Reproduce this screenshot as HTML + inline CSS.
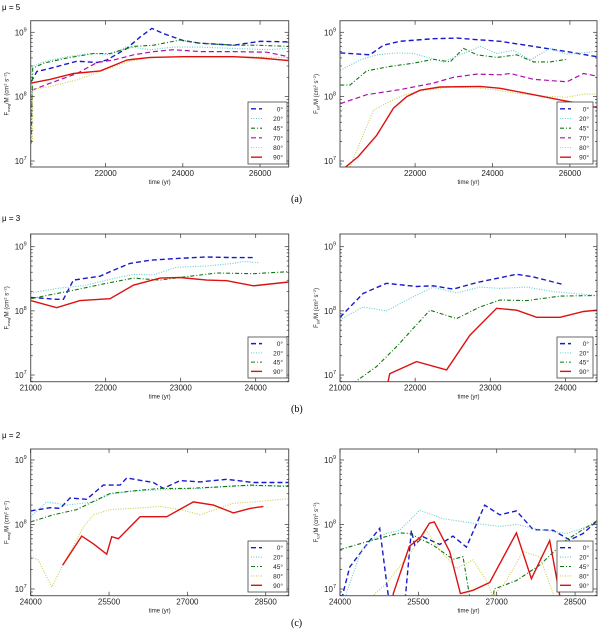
<!DOCTYPE html>
<html><head><meta charset="utf-8">
<style>
body{margin:0;background:#fff;}
svg{display:block;font-family:"Liberation Sans",sans-serif;}
</style></head>
<body>
<svg id="fig" width="600" height="630" viewBox="0 0 600 630">
<text x="2" y="10" font-size="8">μ = 5</text>
<text x="2" y="221" font-size="8">μ = 3</text>
<text x="2" y="438" font-size="8">μ = 2</text>
<text x="291" y="202" font-size="10" font-family="Liberation Serif,serif">(a)</text>
<text x="291" y="412" font-size="10" font-family="Liberation Serif,serif">(b)</text>
<text x="291" y="626" font-size="10" font-family="Liberation Serif,serif">(c)</text>
</svg>
<script>
// ---- data (time in yr, log10 of F/M in cm^2 s^-2) ----
const angleLabels = ["0°","20°","45°","70°","80°","90°"];
// Row a, left (mu=5, F_mag)
const aL_t0=[20070,20220,20570,21260,21780,22030,22550,22900,23200,23500,24020,24450,25310,26000,26740];
const aL_v0=[8.23,8.39,8.44,8.55,8.53,8.57,8.75,8.93,9.06,8.98,8.87,8.83,8.80,8.86,8.85];
const aL_t20=[20070,20095,20397,21000,21603,22121,22552,23155,23759,24448,25310,26172,26741];
const aL_v20=[7.6,8.47,8.54,8.62,8.67,8.65,8.78,8.73,8.77,8.77,8.75,8.73,8.75];
const aL_t45=[20070,20112,20397,21000,21690,22121,22724,23240,23931,24448,25310,25914,26741];
const aL_v45=[7.27,8.44,8.52,8.60,8.67,8.67,8.78,8.80,8.88,8.83,8.80,8.80,8.78];
const aL_t70=[20090,20569,21259,21776,22207,22724,23240,23759,24448,25310,26172,26741];
const aL_v70=[8.10,8.21,8.36,8.53,8.57,8.65,8.70,8.73,8.70,8.70,8.69,8.62];
const aL_t80=[20110,20110,20569,21259,21862,22552,23069,23759,24448,25310,26741];
const aL_v80=[7.3,8.11,8.16,8.26,8.39,8.54,8.60,8.62,8.62,8.62,8.61];
const aL_t90=[20070,20569,21172,21862,22552,23155,24017,25310,26000,26741];
const aL_v90=[8.21,8.27,8.36,8.40,8.57,8.61,8.62,8.62,8.60,8.56];
// Row a, right (mu=5, F_tot)
const aR_t0=[20069,20836,21181,21612,22474,23078,23509,24198,25060,25922,26698];
const aR_v0=[8.68,8.65,8.80,8.86,8.90,8.91,8.89,8.86,8.78,8.70,8.62];
const aR_t20=[20069,20577,21009,21526,21957,22388,22733,23164,23681,24112,24543,24974,25491,25922,26698];
const aR_v20=[8.41,8.57,8.65,8.68,8.67,8.60,8.54,8.65,8.78,8.67,8.72,8.57,8.75,8.66,8.70];
const aR_t45=[20069,20319,20750,21353,21957,22474,22905,23250,23595,24112,24629,25060,25491,25922];
const aR_v45=[8.18,8.18,8.40,8.47,8.52,8.58,8.54,8.75,8.65,8.61,8.65,8.54,8.54,8.58];
const aR_t70=[20069,20750,21612,22474,22991,23595,24198,24457,25060,25922,26353,26698];
const aR_v70=[7.89,8.03,8.11,8.21,8.30,8.35,8.34,8.36,8.27,8.23,8.36,8.32];
const aR_t80=[20100,20319,20922,21267,21612,22043,22905,23767,24629,25491,25922,26353,26698];
const aR_v80=[6.5,6.91,7.79,7.90,8.00,8.08,8.15,8.13,8.05,8.00,7.99,8.04,8.04];
const aR_t90=[20100,20190,20534,21009,21440,21785,22129,22646,23681,24198,25060,25750,26181,26698];
const aR_v90=[6.7,6.90,7.07,7.40,7.82,8.00,8.10,8.15,8.16,8.13,8.03,7.95,7.90,7.83];
// Row b, left (mu=3, F_mag)
const bL_t0=[21000,21347,21436,21569,21924,22058,22324,22591,22991,23347,23702,23969];
const bL_v0=[8.21,8.18,8.18,8.48,8.54,8.61,8.74,8.79,8.82,8.84,8.83,8.83];
const bL_t20=[21000,21347,21702,22013,22369,22636,22947,23347,23702,23836,24036];
const bL_v20=[8.28,8.35,8.39,8.48,8.57,8.56,8.68,8.70,8.74,8.77,8.75];
const bL_t45=[21000,21258,21569,21969,22369,22724,23124,23480,23969,24440];
const bL_v45=[8.19,8.25,8.32,8.42,8.51,8.48,8.54,8.59,8.58,8.61];
const bL_t90=[21000,21347,21658,22058,22369,22724,22991,23347,23613,23969,24440];
const bL_v90=[8.16,8.05,8.16,8.19,8.40,8.51,8.52,8.48,8.47,8.39,8.45];
// Row b, right (mu=3, F_tot)
const bR_t0=[21000,21307,21618,22018,22240,22507,22818,23351,23573,23973];
const bR_v0=[7.90,8.27,8.43,8.38,8.39,8.34,8.44,8.57,8.53,8.41];
const bR_t20=[21000,21307,21618,21973,22240,22551,22862,23129,23484,23840,24418];
const bR_v20=[7.86,8.06,8.00,8.22,8.37,8.28,8.37,8.35,8.37,8.30,8.24];
const bR_t45=[21100,21173,21484,21751,22196,22551,22862,23129,23484,23929,24418];
const bR_v45=[6.6,6.87,7.13,7.44,8.01,7.88,8.06,8.17,8.16,8.23,8.24];
const bR_t90=[21620,21627,21662,22018,22418,22729,23084,23351,23618,23929,24240,24418];
const bR_v90=[6.6,6.82,7.02,7.21,7.08,7.62,8.04,8.01,7.90,7.90,7.99,8.01];
// Row c, left (mu=2, F_mag)
const cL_t0=[24000,24370,24562,24753,25072,25391,25711,25838,26349,26540,26860,27243,27753,28264,28940];
const cL_v0=[8.21,8.26,8.25,8.41,8.39,8.61,8.61,8.72,8.65,8.56,8.68,8.66,8.70,8.65,8.65];
const cL_t20=[24000,24306,24689,25200,25519,25966,26604,27243,27881,28940];
const cL_v20=[8.12,8.35,8.30,8.35,8.47,8.52,8.54,8.56,8.60,8.60];
const cL_t45=[24000,24434,24881,25519,25966,26477,26987,27562,28200,28940];
const cL_v45=[8.04,8.15,8.23,8.48,8.52,8.56,8.56,8.58,8.61,8.59];
const cL_t80=[24000,24147,24402,24562,25009,25200,25519,26157,26477,26923,27243,27498,27881,28264,28940];
const cL_v80=[7.50,7.45,7.03,7.29,7.96,8.15,8.23,8.26,8.28,8.22,8.15,8.22,8.33,8.35,8.40];
const cL_t90=[24613,24977,25200,25455,25551,25679,26094,26604,27115,27498,27881,28200,28455];
const cL_v90=[7.37,7.82,7.70,7.54,7.81,7.78,8.12,8.12,8.35,8.30,8.18,8.25,8.28];
// Row c, right (mu=2, F_tot)
const cR_t0=[24020,24057,24185,24504,24760,24919,25000,25200,25257,25366,25430,25589,25909,26164,26419,26770,27057,27377,27696,28079,28398,28653,28940];
const cR_v0=[6.6,6.93,7.34,7.68,7.94,6.93,6.5,6.5,6.93,7.91,7.68,7.81,7.69,7.82,7.65,8.30,8.15,8.21,7.92,7.91,7.76,7.86,8.07];
const cR_t20=[24080,24121,24409,24632,24887,25143,25526,25972,26547,27057,27377,27824,28334,28940];
const cR_v20=[6.6,6.93,7.60,7.78,7.86,7.91,8.22,8.09,8.02,7.97,8.00,7.92,7.86,8.02];
const cR_t45=[24000,24504,25143,25334,25781,26164,26355,26483,26560,26900,26950,27377,27824,28334,28940];
const cR_v45=[7.61,7.73,7.87,7.86,7.68,7.46,7.50,6.88,6.5,6.5,7.00,7.13,7.37,7.76,8.07];
const cR_t80=[24600,24664,24887,25334,25653,25909,26228,26547,26802,26930,27185,27505,27824,28079,28150];
const cR_v80=[6.6,6.93,7.08,7.55,7.91,7.60,7.32,7.45,7.13,6.88,7.13,7.58,7.50,6.93,6.6];
const cR_t90=[24980,25020,25327,25551,25711,25806,26100,26304,26547,26866,27377,27664,28015,28200,28260];
const cR_v90=[6.6,6.93,7.66,7.81,8.02,8.04,7.58,6.93,6.98,7.10,7.87,7.16,7.75,6.93,6.6];
// tick labels
const xTicksA=[22000,24000,26000];
const xTicksB=[21000,22000,23000,24000];
const xTicksC=[24000,25500,27000,28500];
const yDecades=[7,8,9];

const STY={
 "0°":{c:"#1a1acc",d:"5,3",w:1.4},
 "20°":{c:"#66cccc",d:"1,1.5",w:1.1},
 "45°":{c:"#117711",d:"4,2,1,2",w:1.1},
 "70°":{c:"#aa11aa",d:"5,3",w:1.2},
 "80°":{c:"#cccc55",d:"1,1.5",w:1.1},
 "90°":{c:"#dd1111",d:"",w:1.4}
};
const NS="http://www.w3.org/2000/svg";
const svg=document.getElementById('fig');
function mk(tag,attrs,parent){const e=document.createElementNS(NS,tag);for(const k in attrs)e.setAttribute(k,attrs[k]);(parent||svg).appendChild(e);return e;}

const panels=[
 {id:"a-left",box:[30.7,20.7,288.7,167],xd:[20060,26742],yd:[6.907,9.18],xt:xTicksA,lab:"mag",
  series:[["0°",aL_t0,aL_v0],["20°",aL_t20,aL_v20],["45°",aL_t45,aL_v45],["70°",aL_t70,aL_v70],["80°",aL_t80,aL_v80],["90°",aL_t90,aL_v90]],leg:[248,102,287,164]},
 {id:"a-right",box:[340,20.7,597,167],xd:[20060,26700],yd:[6.907,9.18],xt:xTicksA,lab:"tot",
  series:[["0°",aR_t0,aR_v0],["20°",aR_t20,aR_v20],["45°",aR_t45,aR_v45],["70°",aR_t70,aR_v70],["80°",aR_t80,aR_v80],["90°",aR_t90,aR_v90]],leg:[557,102,593,164]},
 {id:"b-left",box:[30.7,234,288.7,381.7],xd:[21000,24440],yd:[6.896,9.198],xt:xTicksB,lab:"mag",
  series:[["0°",bL_t0,bL_v0],["20°",bL_t20,bL_v20],["45°",bL_t45,bL_v45],["90°",bL_t90,bL_v90]],leg:[248,337,287,378]},
 {id:"b-right",box:[340,234,597,381.7],xd:[21000,24420],yd:[6.896,9.198],xt:xTicksB,lab:"tot",
  series:[["0°",bR_t0,bR_v0],["20°",bR_t20,bR_v20],["45°",bR_t45,bR_v45],["90°",bR_t90,bR_v90]],leg:[557,337,593,378]},
 {id:"c-left",box:[30.7,449,288.7,595.7],xd:[24000,28940],yd:[6.896,9.17],xt:xTicksC,lab:"mag",
  series:[["0°",cL_t0,cL_v0],["20°",cL_t20,cL_v20],["45°",cL_t45,cL_v45],["80°",cL_t80,cL_v80],["90°",cL_t90,cL_v90]],leg:[248,541,287,592]},
 {id:"c-right",box:[340,449,597,595.7],xd:[24000,28920],yd:[6.896,9.17],xt:xTicksC,lab:"tot",
  series:[["0°",cR_t0,cR_v0],["20°",cR_t20,cR_v20],["45°",cR_t45,cR_v45],["80°",cR_t80,cR_v80],["90°",cR_t90,cR_v90]],leg:[557,541,593,592]}
];

panels.forEach((p,pi)=>{
 const [x0,y0,x1,y1]=p.box;
 const sx=t=>x0+(t-p.xd[0])/(p.xd[1]-p.xd[0])*(x1-x0);
 const sy=v=>y1-(v-p.yd[0])/(p.yd[1]-p.yd[0])*(y1-y0);
 const g=mk('g',{});
 
 
 const cp=mk('clipPath',{id:'clip'+pi},g);
 mk('rect',{x:x0,y:y0,width:x1-x0,height:y1-y0},cp);
 // series
 const sg=mk('g',{'clip-path':'url(#clip'+pi+')'},g);
 p.series.forEach(s=>{
  const st=STY[s[0]];
  const pts=s[1].map((t,i)=>sx(t).toFixed(1)+','+sy(s[2][i]).toFixed(1)).join(' ');
  const pl=mk('polyline',{points:pts,fill:'none',stroke:st.c,'stroke-width':st.w,'stroke-dasharray':st.d},sg);
  
  
 });
 // frame
 const fr=mk('rect',{x:x0,y:y0,width:x1-x0,height:y1-y0,fill:'none',stroke:'#555','stroke-width':1},g);
 
 
 // y ticks
 for(let d=6;d<=9;d++){
  for(let m=1;m<10;m++){
   const v=d+Math.log10(m);
   if(v<p.yd[0]||v>p.yd[1])continue;
   const y=sy(v), L=(m==1)?4:2;
   mk('line',{x1:x0,x2:x0+L,y1:y,y2:y,stroke:'#333','stroke-width':0.7},g);
   mk('line',{x1:x1,x2:x1-L,y1:y,y2:y,stroke:'#333','stroke-width':0.7},g);
  }
 }
 yDecades.forEach(d=>{
  const t=mk('text',{x:x0-4,y:sy(d)+3,'font-size':8,'text-anchor':'end',fill:'#222'},g);
  
  
  t.textContent='10';
  const sp=mk('tspan',{dy:-4,'font-size':5.5},t);sp.textContent=String(d);
 });
 // x ticks
 p.xt.forEach(v=>{
  const x=sx(v);
  mk('line',{x1:x,x2:x,y1:y1,y2:y1-4,stroke:'#333','stroke-width':0.7},g);
  mk('line',{x1:x,x2:x,y1:y0,y2:y0+4,stroke:'#333','stroke-width':0.7},g);
  const t=mk('text',{x:x,y:y1+9,'font-size':8,'text-anchor':'middle',fill:'#222'},g);
  
  
  t.textContent=String(v);
 });
 // axis titles
 const xt=mk('text',{x:(x0+x1)/2,y:y1+17,'font-size':6,'text-anchor':'middle',fill:'#222'},g);
 
 
 xt.textContent='time (yr)';
 const ytx=x0-22, yty=(y0+y1)/2;
 const yt=mk('text',{x:ytx,y:yty,'font-size':6,'text-anchor':'middle',fill:'#222',transform:'rotate(-90 '+ytx+' '+yty+')'},g);
 
 
 yt.textContent='F';
 const sub=mk('tspan',{dy:1.5,'font-size':4},yt);sub.textContent=p.lab;
 const rest=mk('tspan',{dy:-1.5},yt);rest.textContent='/M (cm';
 const s2=mk('tspan',{dy:-2,'font-size':4},yt);s2.textContent='2';
 const r2=mk('tspan',{dy:2},yt);r2.textContent=' s';
 const s3=mk('tspan',{dy:-2,'font-size':4},yt);s3.textContent='−2';
 const r3=mk('tspan',{dy:2},yt);r3.textContent=')';
 // legend
 const [lx0,ly0,lx1,ly1]=p.leg;
 const lg=mk('g',{},g);
 
 
 mk('rect',{x:lx0,y:ly0,width:lx1-lx0,height:ly1-ly0,fill:'#fff',stroke:'#444','stroke-width':0.8},lg);
 const n=p.series.length, rh=(ly1-ly0-4)/n;
 p.series.forEach((s,i)=>{
  const st=STY[s[0]];
  const yy=ly0+2+rh*(i+0.5);
  const ln=mk('line',{x1:lx0+3,x2:lx0+14,y1:yy,y2:yy,stroke:st.c,'stroke-width':st.w,'stroke-dasharray':st.d},lg);
  
  
  const tx=mk('text',{x:lx1-4,y:yy+2.5,'font-size':6.5,'text-anchor':'end',fill:'#222'},lg);
  
  
  tx.textContent=s[0];
 });
});
</script>
</body></html>
